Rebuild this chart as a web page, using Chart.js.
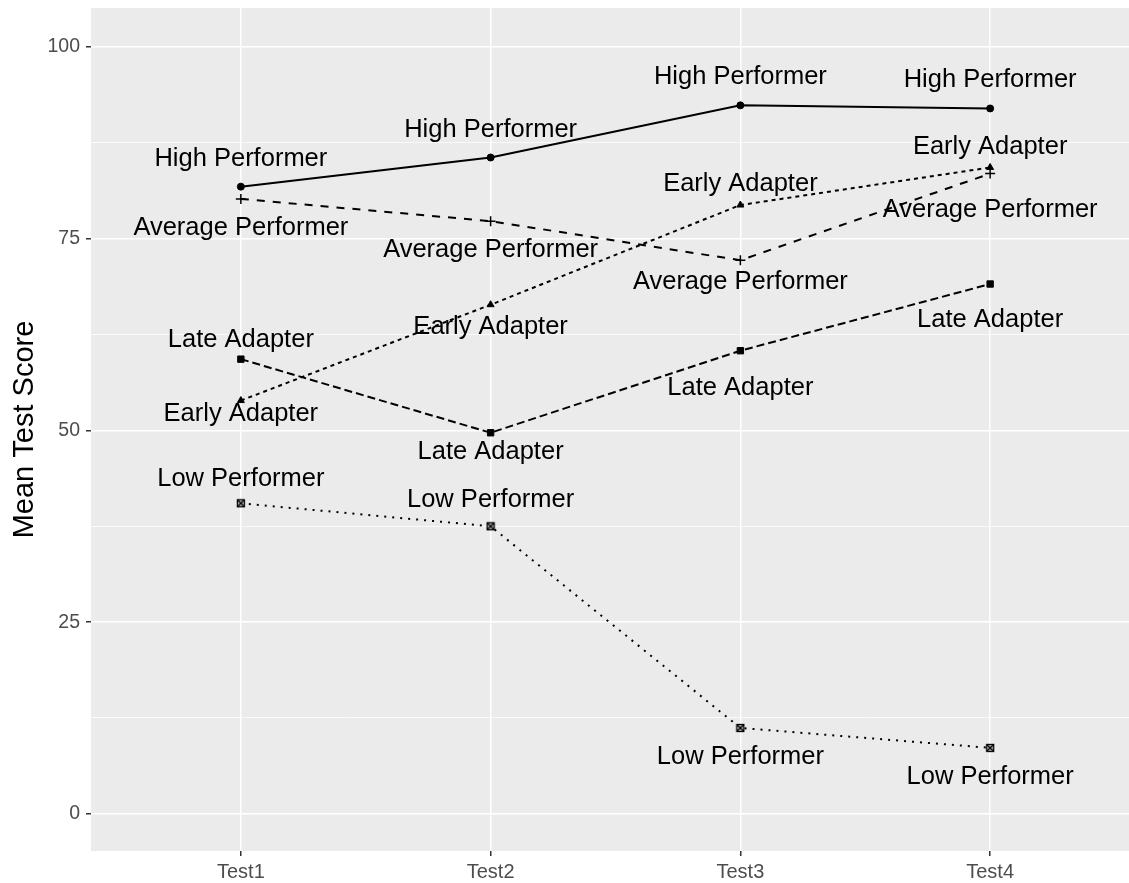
<!DOCTYPE html>
<html><head><meta charset="utf-8">
<script src="https://cdn.jsdelivr.net/npm/chart.js@4.4.1/dist/chart.umd.min.js"></script>
<style>html,body{margin:0;padding:0;background:#fff;overflow:hidden}canvas{display:block}</style>
</head><body><canvas id="c" width="1129" height="883" style="width:1129px;height:883px"></canvas>
<script>
const categories = ["Test1", "Test2", "Test3", "Test4"];
const seriesNames = ["High Performer", "Average Performer", "Early Adapter", "Late Adapter", "Low Performer"];
const highPerformer = [81.8, 85.6, 92.4, 92.0];
const averagePerformer = [80.2, 77.3, 72.2, 83.5];
const earlyAdapter = [53.9, 66.4, 79.4, 84.3];
const lateAdapter = [59.3, 49.7, 60.4, 69.1];
const lowPerformer = [40.5, 37.5, 11.2, 8.6];
const yTickLabels = ["0", "25", "50", "75", "100"];

// label vertical offsets (px) relative to each point — style/position config
const labelOffsets = [
  [-28, -28, -28, -28],
  [29, 29, 22, 36],
  [13, 22, -21, -21],
  [-19, 19, 37, 36],
  [-24, -26, 29, 29]
];

function crossSquare() {
  const c = document.createElement('canvas');
  c.width = 10; c.height = 10;
  const g = c.getContext('2d');
  g.fillStyle = '#bdbdbd';
  g.fillRect(1.5, 1.5, 7, 7);
  g.strokeStyle = '#000'; g.lineWidth = 1.3;
  g.strokeRect(1.5, 1.5, 7, 7);
  g.beginPath(); g.moveTo(1.5, 1.5); g.lineTo(8.5, 8.5); g.moveTo(8.5, 1.5); g.lineTo(1.5, 8.5); g.stroke();
  return c;
}

const seriesValues = [highPerformer, averagePerformer, earlyAdapter, lateAdapter, lowPerformer];
const styles = [
  {dash: [], pt: 'circle', r: 3.5},
  {dash: [8, 8], pt: 'cross', r: 5},
  {dash: [4, 4], pt: 'triangle', r: 4},
  {dash: [8, 4], pt: 'rect', r: 4.5},
  {dash: [2, 6], pt: crossSquare(), r: 5}
];

const datasets = seriesValues.map((vals, i) => ({
  label: seriesNames[i],
  data: vals.map((v, j) => ({x: j + 1, y: v})),
  borderColor: '#000',
  backgroundColor: '#000',
  borderWidth: 2,
  borderDash: styles[i].dash,
  pointStyle: styles[i].pt,
  pointRadius: styles[i].r,
  pointBorderWidth: i === 1 ? 1.5 : 1,
  pointBorderColor: '#000',
  pointBackgroundColor: '#000',
  fill: false,
  tension: 0
}));

const panelBg = {
  id: 'panelBg',
  beforeDraw(chart) {
    const {ctx, chartArea: a} = chart;
    ctx.save();
    ctx.fillStyle = '#ebebeb';
    ctx.fillRect(a.left, a.top, a.right - a.left, a.bottom - a.top);
    ctx.restore();
  }
};

const pointLabels = {
  id: 'pointLabels',
  afterDatasetsDraw(chart) {
    const ctx = chart.ctx;
    ctx.save();
    ctx.font = '25.5px "Liberation Sans", Arial, sans-serif';
    ctx.fillStyle = '#000';
    ctx.textAlign = 'center';
    ctx.textBaseline = 'middle';
    chart.data.datasets.forEach((ds, i) => {
      const meta = chart.getDatasetMeta(i);
      meta.data.forEach((el, j) => {
        ctx.fillText(ds.label, el.x, el.y + labelOffsets[i][j]);
      });
    });
    ctx.restore();
  }
};

const isMajor = v => Math.abs(v / 25 - Math.round(v / 25)) < 1e-6;

new Chart(document.getElementById('c'), {
  type: 'line',
  data: {datasets},
  plugins: [panelBg, pointLabels],
  options: {
    responsive: false,
    animation: false,
    layout: {autoPadding: false, padding: {top: 8, right: 0, left: 0, bottom: 0}},
    plugins: {legend: {display: false}, tooltip: {enabled: false}},
    scales: {
      x: {
        type: 'linear',
        min: 0.4, max: 4.556,
        afterFit(s) { s.height = 32; s.paddingLeft = 0; s.paddingRight = 0; },
        afterBuildTicks(s) { s.ticks = categories.map((c, i) => ({value: i + 1})); },
        ticks: {
          callback: v => categories[Math.round(v) - 1] || '',
          font: {family: '"Liberation Sans", Arial, sans-serif', size: 20},
          color: '#4d4d4d',
          padding: 4,
          maxRotation: 0, autoSkip: false
        },
        grid: {color: '#ffffff', lineWidth: 1.5, tickColor: '#333333', tickLength: 5, drawOnChartArea: true},
        border: {display: false}
      },
      y: {
        type: 'linear',
        min: -4.85, max: 105.1,
        afterFit(s) { s.width = 91; s.paddingTop = 0; s.paddingBottom = 0; },
        afterBuildTicks(s) {
          const t = [];
          for (let v = 0; v <= 100; v += 12.5) t.push({value: v});
          s.ticks = t;
        },
        ticks: {
          callback: v => isMajor(v) ? yTickLabels[Math.round(v / 25)] : '',
          font: {family: '"Liberation Sans", Arial, sans-serif', size: 19.5},
          color: '#4d4d4d',
          padding: 6,
          autoSkip: false
        },
        grid: {
          color: '#ffffff',
          lineWidth: c => isMajor(c.tick.value) ? 1.5 : 0.75,
          tickColor: c => isMajor(c.tick.value) ? '#333333' : 'rgba(0,0,0,0)',
          tickLength: 5
        },
        border: {display: false},
        title: {
          display: true,
          text: 'Mean Test Score',
          font: {family: '"Liberation Sans", Arial, sans-serif', size: 29},
          color: '#000',
          padding: {top: 8, bottom: 0}
        }
      }
    }
  }
});
</script></body></html>
